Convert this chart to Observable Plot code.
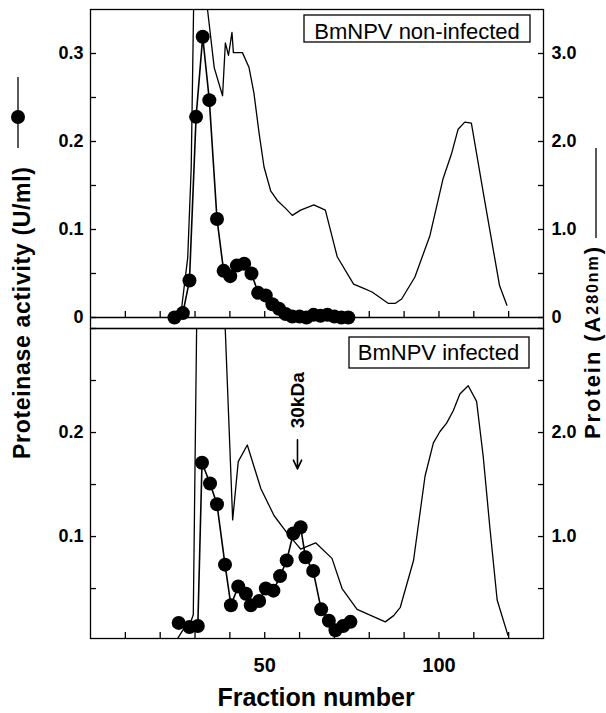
<!DOCTYPE html>
<html><head><meta charset="utf-8">
<script src="https://cdn.jsdelivr.net/npm/d3@7"></script>
<script src="https://cdn.jsdelivr.net/npm/@observablehq/plot@0.6"></script>
<style>
body{margin:0;background:#fff;}
#wrap{position:relative;width:606px;height:713px;font-family:"Liberation Sans",Arial,sans-serif;}
#wrap svg{position:absolute;left:0;}
</style></head><body><div id="wrap"></div>
<script>
// ---- Top panel: BmNPV non-infected ----
const topActFraction = [24.1,26.5,28.4,30.3,32.2,34.1,36.3,38.2,40.1,42.0,44.1,46.2,48.1,50.3,52.2,54.1,56.0,57.9,60.0,62.0,64.0,66.0,68.0,70.0,72.0,74.0];
const topActivity    = [0.000,0.005,0.042,0.228,0.319,0.247,0.112,0.053,0.047,0.059,0.061,0.050,0.028,0.025,0.015,0.010,0.004,0.001,0.001,0.000,0.003,0.002,0.003,0.001,0.000,0.000];
const topProtFraction = [22.2,24.2,26.0,27.9,28.9,29.6,31.0,33.0,35.5,37.9,38.7,39.6,40.6,41.0,43.6,45.5,46.9,48.4,49.8,51.7,53.6,56.0,57.9,60.3,64.1,67.4,70.8,75.5,77.9,80.8,85.5,87.4,89.3,93.1,97.4,101.2,103.6,105.5,107.4,109.3,113.1,117.4,119.5];
const topProtein      = [0.00,0.02,0.06,0.68,1.70,3.55,6.0,3.7,2.84,2.52,3.12,2.98,3.24,3.01,3.01,2.84,2.55,2.09,1.71,1.44,1.33,1.24,1.16,1.22,1.28,1.22,0.69,0.38,0.34,0.29,0.16,0.16,0.21,0.46,0.93,1.58,1.86,2.14,2.22,2.21,1.33,0.36,0.14];

// ---- Bottom panel: BmNPV infected ----
const botActFraction = [25.3,28.4,30.8,32.0,34.3,36.3,38.6,40.3,42.4,44.6,46.0,48.4,50.3,52.5,54.4,56.3,58.2,60.3,61.7,63.9,66.2,68.4,70.3,72.5,74.6];
const botActivity    = [0.017,0.013,0.014,0.171,0.151,0.131,0.073,0.034,0.052,0.045,0.034,0.038,0.050,0.048,0.062,0.077,0.103,0.109,0.080,0.067,0.030,0.019,0.010,0.014,0.018];
const botProtFraction = [25.0,26.5,28.9,29.5,30.8,37.5,40.8,42.4,45.0,48.9,52.7,56.5,59.3,60.3,64.6,69.3,72.2,76.5,84.6,87.0,88.9,92.7,96.0,98.4,100.3,102.2,104.1,106.0,108.4,110.8,112.7,114.6,116.7,119.8];
const botProtein      = [0.02,0.10,0.19,0.25,4.0,4.0,1.16,1.72,1.88,1.46,1.20,1.03,0.92,0.88,0.94,0.79,0.50,0.30,0.18,0.24,0.32,0.77,1.58,1.90,2.01,2.09,2.21,2.37,2.45,2.30,1.77,1.09,0.39,0.05];

// ---- Ticks and labels ----
const actTicksTop   = [0,0.05,0.1,0.15,0.2,0.25,0.3];
const actLabelsTop  = ["0","","0.1","","0.2","","0.3"];
const protTicksTop  = [0,0.5,1,1.5,2,2.5,3];
const protLabelsTop = ["0","","1.0","","2.0","","3.0"];
const actTicksBot   = [0.05,0.1,0.15,0.2,0.25,0.3];
const actLabelsBot  = ["","0.1","","0.2","",""];
const protTicksBot  = [0.5,1,1.5,2,2.5,3];
const protLabelsBot = ["","1.0","","2.0","",""];
const fractionTicks  = [10,20,30,40,50,60,70,80,90,100,110,120];
const fractionLabels = ["","","","","50","","","","","100","",""];
const panelTitles = ["BmNPV non-infected","BmNPV infected"];
const xTitle = "Fraction number";
const yLeftTitle = "Proteinase activity (U/ml)";
const yRightTitleMain = "Protein (A";
const yRightTitleSub = "280nm";
const markerLabel = "30kDa";
const markerFraction = 59.4;
const proteinPerActivity = 10; // right axis units per left axis unit

const FONT = "Liberation Sans, Arial, Helvetica, sans-serif";
const wrap = document.getElementById("wrap");

const zip = (xs, ys, k) => xs.map((f, i) => ({f, [k]: ys[i]}));
const lookup = (vals, labels) => { const m = new Map(vals.map((v, i) => [v, labels[i]])); return d => m.get(d) ?? ""; };

function yAxes(aT, aL, pT, pL) {
  const pv = pT.map(p => p / proteinPerActivity);
  return [
    Plot.axisY(aT, {anchor: "left", tickSize: -6, tickPadding: 13, tickFormat: lookup(aT, aL), fontSize: 18, fontWeight: "bold", label: null, strokeWidth: 1.3}),
    Plot.axisY(pv, {anchor: "right", tickSize: -6, tickPadding: 14, tickFormat: lookup(pv, pL), fontSize: 18, fontWeight: "bold", label: null, strokeWidth: 1.3})
  ];
}

const common = {
  width: 606, marginLeft: 90, marginRight: 63,
  x: {domain: [0, 130]},
  style: {background: "transparent", overflow: "visible", fontFamily: FONT, color: "black"}
};

const topAct = zip(topActFraction, topActivity, "a");
const topProt = zip(topProtFraction, topProtein, "p");
const botAct = zip(botActFraction, botActivity, "a");
const botProt = zip(botProtFraction, botProtein, "p");

const topChart = Plot.plot({
  ...common,
  height: 330, marginTop: 9, marginBottom: 2,
  y: {domain: [-0.0125, 0.35]},
  marks: [
    Plot.ruleY([0], {strokeWidth: 1.3}),
    Plot.frame({strokeWidth: 1.3}),
    Plot.axisX(fractionTicks, {anchor: "bottom", tickSize: -6, dy: -11, tickFormat: () => "", label: null, strokeWidth: 1.3}),
    ...yAxes(actTicksTop, actLabelsTop, protTicksTop, protLabelsTop),
    Plot.line(topProt, {x: "f", y: d => d.p / proteinPerActivity, strokeWidth: 1.3, clip: true}),
    Plot.line(topAct, {x: "f", y: "a", strokeWidth: 1.6}),
    Plot.dot(topAct, {x: "f", y: "a", r: 7, fill: "black"})
  ]
});
topChart.style.top = "0px";

const bottomChart = Plot.plot({
  ...common,
  height: 385, marginTop: 0, marginBottom: 75,
  y: {domain: [0.002, 0.3]},
  marks: [
    Plot.frame({strokeWidth: 1.3}),
    Plot.axisX(fractionTicks, {anchor: "bottom", tickSize: -6, tickPadding: 25, tickFormat: lookup(fractionTicks, fractionLabels), fontSize: 20, fontWeight: "bold", label: null, strokeWidth: 1.3}),
    ...yAxes(actTicksBot, actLabelsBot, protTicksBot, protLabelsBot),
    Plot.line(botProt, {x: "f", y: d => d.p / proteinPerActivity, strokeWidth: 1.3, clip: true}),
    Plot.line(botAct, {x: "f", y: "a", strokeWidth: 1.6}),
    Plot.dot(botAct, {x: "f", y: "a", r: 7, fill: "black"}),
    Plot.text([{f: markerFraction, a: 0.231, t: markerLabel}], {x: "f", y: "a", text: "t", rotate: -90, fontSize: 19, fontWeight: "bold"}),
    Plot.arrow([{f: markerFraction, a1: 0.193, a2: 0.165}], {x1: "f", x2: "f", y1: "a1", y2: "a2", strokeWidth: 1.6, headLength: 16, headAngle: 50})
  ]
});
bottomChart.style.top = "328px";

wrap.appendChild(topChart);
wrap.appendChild(bottomChart);

// Overlay: axis titles, legend keys, panel title boxes
const ov = d3.create("svg").attr("width", 606).attr("height", 713)
  .style("top", "0px").style("overflow", "visible").style("font-family", FONT);
ov.append("line").attr("x1", 18).attr("x2", 18).attr("y1", 77).attr("y2", 148).attr("stroke", "black").attr("stroke-width", 1.3);
ov.append("circle").attr("cx", 18).attr("cy", 117).attr("r", 7).attr("fill", "black");
ov.append("text").attr("transform", "translate(22,313) rotate(-90)")
  .attr("text-anchor", "middle").attr("dominant-baseline", "central")
  .attr("font-size", 23).attr("font-weight", "bold")
  .attr("textLength", 292).attr("lengthAdjust", "spacing").text(yLeftTitle);

ov.append("line").attr("x1", 596).attr("x2", 596).attr("y1", 148).attr("y2", 238).attr("stroke", "black").attr("stroke-width", 1.3);
const rt = ov.append("text").attr("transform", "translate(592,343) rotate(-90)")
  .attr("text-anchor", "middle").attr("dominant-baseline", "central")
  .attr("font-size", 22).attr("font-weight", "bold")
  .attr("textLength", 192).attr("lengthAdjust", "spacing");
rt.append("tspan").text(yRightTitleMain);
rt.append("tspan").attr("font-size", 16).text(yRightTitleSub);
rt.append("tspan").text(")");

const boxes = [
  {x: 304, y: 15, w: 226, h: 27, tx: 417, ty: 39},
  {x: 349, y: 337, w: 180, h: 31, tx: 438.5, ty: 360}
];
boxes.forEach((b, i) => {
  ov.append("rect").attr("x", b.x).attr("y", b.y).attr("width", b.w).attr("height", b.h)
    .attr("fill", "white").attr("stroke", "black").attr("stroke-width", 1.3);
  ov.append("text").attr("x", b.tx).attr("y", b.ty).attr("text-anchor", "middle")
    .attr("font-size", 22).text(panelTitles[i]);
});
ov.append("text").attr("x", 316).attr("y", 706).attr("text-anchor", "middle")
  .attr("font-size", 25).attr("font-weight", "bold").text(xTitle);

wrap.appendChild(ov.node());
</script></body></html>
